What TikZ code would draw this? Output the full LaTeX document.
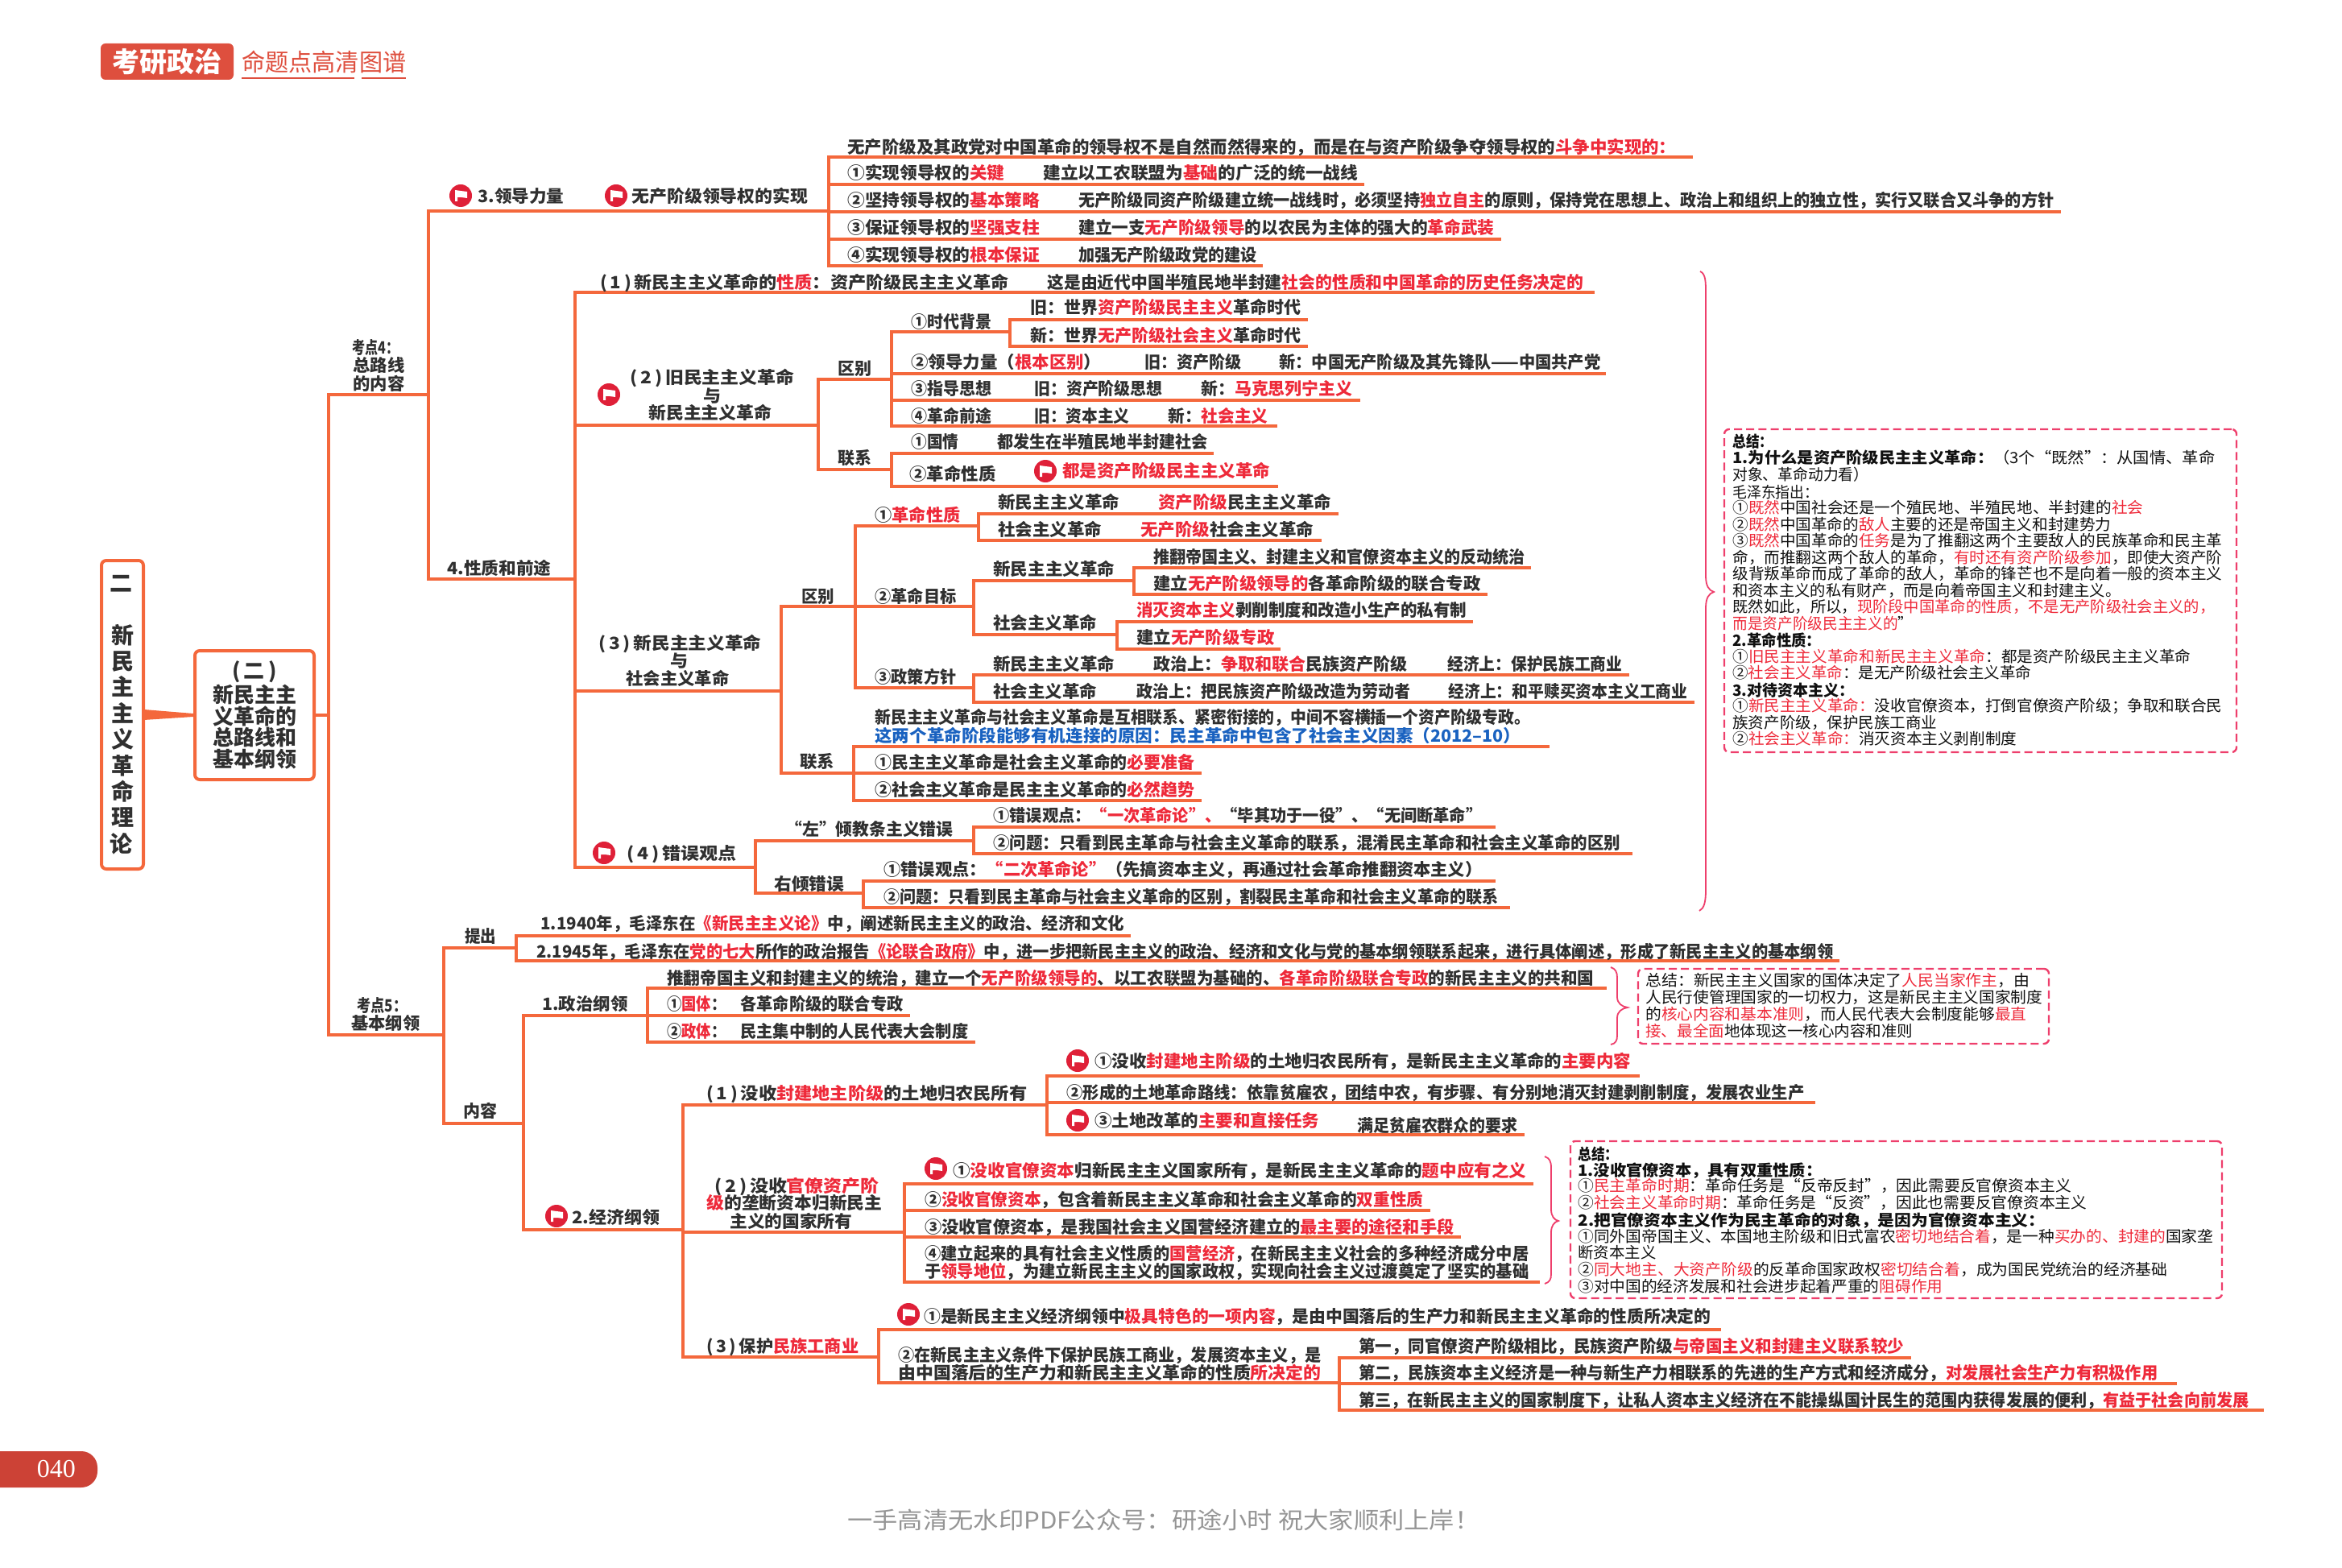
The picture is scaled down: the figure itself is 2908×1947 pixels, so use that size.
\documentclass[tikz,border=0pt]{standalone}
\usepackage{fontspec}
\usepackage{graphicx}
\setmainfont{Noto Sans CJK SC}
\newcommand\medf{\bfseries}
\newfontfamily\wmf{Liberation Serif}
\definecolor{org}{HTML}{F4683C}
\definecolor{ink}{HTML}{303030}
\definecolor{sink}{HTML}{101010}
\definecolor{redt}{HTML}{EE2A3A}
\definecolor{bluet}{HTML}{1A62C0}
\definecolor{pinkl}{HTML}{EE3F6C}
\definecolor{flagr}{HTML}{DF2038}
\definecolor{headc}{HTML}{DE4F3E}
\definecolor{pagec}{HTML}{CC4236}
\definecolor{wmark}{HTML}{959595}
\newcommand\R[1]{\textcolor{redt}{#1}}
\newcommand\BL[1]{\textcolor{bluet}{#1}}
\newcommand\B[1]{{\normalfont\bfseries #1}}
\newcounter{tc}
\newlength\tw
\tikzset{
 ln/.style={draw=org,line width=1.9pt,line cap=rect},
 txt/.style={anchor=west,inner sep=0pt,text=ink,font=\fontsize{10.5}{12}\selectfont\medf,text height=9pt,text depth=1.2pt},
 sm/.style={anchor=west,inner sep=0pt,text=sink,font=\fontsize{9.6}{11}\selectfont,text height=8.2pt,text depth=1.1pt},
 sumbox/.style={draw=pinkl,line width=1.2pt,dash pattern=on 5pt off 2.6pt,rounded corners=3pt,inner sep=0pt},
 brc/.style={draw=pinkl,line width=.9pt},
 mainbox/.style={draw=org,line width=2pt,rounded corners=3pt,fill=white,inner sep=0pt,text=ink,align=center}
}
\newcommand\T[5][txt]{\stepcounter{tc}\pgfmathsetlength\tw{(#4-#2)*0.5}\node[#1] (t\arabic{tc}) at (#2,#3) {\resizebox{\tw}{\height}{#5}};}
\newcommand\UL[4]{\coordinate (#1-l) at (#2,#4); \coordinate (#1-r) at (#3,#4); \draw[ln] (#1-l) -- (#1-r);}
\newcommand\FL[2]{\begin{scope}[shift={(#1,#2)}]
 \fill[flagr] (0,0) circle (14);
 \fill[white] (-7,-7) -- (0,-6) -- (8,-5) -- (8,3) -- (1,2) -- (-4,2) -- (-4,7) -- (-7,7) -- cycle;
 \end{scope}}
\begin{document}
\begin{tikzpicture}[x=0.5pt,y=-0.5pt]
\useasboundingbox (0,0) rectangle (2908,1947);
% header
\node[fill=headc,minimum width=82.5pt,minimum height=22.5pt,rounded corners=3pt,inner sep=0pt,text=white,font=\fontsize{17}{18}\selectfont\bfseries] (hd) at (207.5,76.5) {考研政治};
\T[{anchor=west,inner sep=0pt,text=headc,font=\fontsize{15}{16}\selectfont}]{300}{77}{504}{命题点高清图谱}
\coordinate (ha) at (300,97); \coordinate (hb) at (440,97); \coordinate (hc) at (449,97); \coordinate (hd2) at (504,97);
\draw[headc,line width=1.1pt] (ha) -- (hb); \draw[headc,line width=1.1pt] (hc) -- (hd2);
% root boxes
\node[mainbox,minimum width=26pt,minimum height=191.5pt,font=\fontsize{14}{16.2}\selectfont\bfseries] (root) at (152,887.5) {二\hspace*{1.5pt}\\[16.2pt]新\hspace*{1.5pt}\\民\hspace*{1.5pt}\\主\hspace*{1.5pt}\\主\hspace*{1.5pt}\\义\hspace*{1.5pt}\\革\hspace*{1.5pt}\\命\hspace*{1.5pt}\\理\hspace*{1.5pt}\\论\hspace*{1.5pt}};
\node[mainbox,minimum width=74pt,minimum height=80pt,font=\fontsize{13}{13.4}\selectfont\bfseries] (sec) at (316,888) {(\,二\,)\\新民主主\\义革命的\\总路线和\\基本纲领};
\fill[org] ([yshift=3.2pt]root.east) -- ([yshift=-3.2pt]root.east) -- ([yshift=-1pt]sec.west) -- ([yshift=1pt]sec.west) -- cycle;
% trunk
\coordinate (trunkm) at (408,888);
\draw[ln] (sec.east) -- (trunkm);
\UL{k4}{408}{532}{490}
\UL{k5}{408}{551}{1285}
\draw[ln] (k4-l) -- (k5-l);
\T{437}{432}{495}{\B{考点4：}}
\T{438}{454}{502}{\B{总路线}}
\T{438}{477}{502}{\B{的内容}}
\T{443}{1249}{505}{\B{考点5：}}
\T{436}{1271}{521}{\B{基本纲领}}
% 3. leadership
\UL{p3}{532}{1029}{262}
\UL{p4}{532}{713}{719}
\draw[ln] (p3-l) -- (p4-l);
\FL{572}{243}\T{593}{244}{700}{3.领导力量}
\FL{765}{243}\T{784}{244}{1003}{无产阶级领导权的实现}
\UL{r0}{1029}{2100}{195}
\UL{r1}{1029}{1692}{229}
\UL{r2}{1029}{2557}{263}
\UL{r3}{1029}{1862}{297}
\UL{r4}{1029}{1566}{330}
\draw[ln] (r0-l) -- (r4-l);
\T{1052}{183}{2081}{无产阶级及其政党对中国革命的领导权不是自然而然得来的，而是在与资产阶级争夺领导权的\R{斗争中实现的：}}
\T{1052}{215}{1247}{①实现领导权的\R{关键}}
\T{1295}{215}{1686}{建立以工农联盟为\R{基础}的广泛的统一战线}
\T{1052}{249}{1291}{②坚持领导权的\R{基本策略}}
\T{1339}{249}{2550}{无产阶级同资产阶级建立统一战线时，必须坚持\R{独立自主}的原则，保持党在思想上、政治上和组织上的独立性，实行又联合又斗争的方针}
\T{1052}{283}{1291}{③保证领导权的\R{坚强支柱}}
\T{1339}{283}{1855}{建立一支\R{无产阶级领导}的以农民为主体的强大的\R{革命武装}}
\T{1052}{317}{1291}{④实现领导权的\R{根本保证}}
\T{1339}{317}{1560}{加强无产阶级政党的建设}
% 4 nature
\T{555}{706}{684}{4.性质和前途}
\UL{q1}{714}{1978}{363}
\UL{q2}{714}{1016}{528}
\UL{q3}{714}{970}{858}
\UL{q4}{714}{938}{1077}
\draw[ln] (q1-l) -- (q4-l);
\T{745}{351}{1252}{(\,1\,)\,新民主主义革命的\R{性质}：资产阶级民主主义革命}
\T{1300}{351}{1966}{这是由近代中国半殖民地半封建\R{社会的性质和中国革命的历史任务决定的}}
% (2)
\FL{756}{490}
\T{782}{469}{986}{(\,2\,)\,旧民主主义革命}
\T{873}{492}{895}{与}
\T{805}{513}{958}{新民主主义革命}
\UL{a0}{1016}{1107}{471}
\UL{a9}{1016}{1107}{583}
\draw[ln] (a0-l) -- (a9-l);
\T{1040}{458}{1082}{区别}
\T{1040}{569}{1082}{联系}
\UL{a1}{1107}{1254}{412}
\UL{a2}{1107}{1992}{464}
\UL{a3}{1107}{1687}{497}
\UL{a4}{1107}{1584}{529}
\draw[ln] (a1-l) -- (a4-l);
\T{1131}{400}{1231}{①时代背景}
\UL{a1a}{1254}{1622}{397}
\UL{a1b}{1254}{1622}{430}
\draw[ln] (a1a-l) -- (a1b-l);
\T{1279}{382}{1615}{旧：世界\R{资产阶级民主主义}革命时代}
\T{1279}{417}{1615}{新：世界\R{无产阶级社会主义}革命时代}
\T{1131}{450}{1367}{②领导力量（\R{根本区别}）}
\T{1421}{450}{1541}{旧：资产阶级}
\T{1588}{450}{1987}{新：中国无产阶级及其先锋队——中国共产党}
\T{1131}{483}{1231}{③指导思想}
\T{1284}{483}{1443}{旧：资产阶级思想}
\T{1491}{483}{1679}{新：\R{马克思列宁主义}}
\T{1131}{517}{1231}{④革命前途}
\T{1284}{517}{1402}{旧：资本主义}
\T{1450}{517}{1574}{新：\R{社会主义}}
\UL{b1}{1107}{1505}{563}
\UL{b2}{1107}{1585}{604}
\draw[ln] (b1-l) -- (b2-l);
\T{1131}{549}{1190}{①国情}
\T{1238}{549}{1499}{都发生在半殖民地半封建社会}
\T{1129}{589}{1236}{②革命性质}
\FL{1298}{585}\T{1319}{585}{1577}{\R{都是资产阶级民主主义革命}}
% (3)
\T{743}{799}{945}{(\,3\,)\,新民主主义革命}
\T{832}{821}{854}{与}
\T{777}{843}{905}{社会主义革命}
\UL{c0}{970}{1209}{753}
\UL{c9}{970}{1060}{960}
\draw[ln] (c0-l) -- (c9-l);
\T{995}{741}{1036}{区别}
\T{993}{946}{1036}{联系}
\UL{c1}{1062}{1215}{653}
\UL{c3}{1062}{1209}{854}
\draw[ln] (c1-l) -- (c3-l);
\T{1086}{640}{1192}{①\R{革命性质}}
\UL{c1a}{1215}{1660}{638}
\UL{c1b}{1215}{1639}{671}
\draw[ln] (c1a-l) -- (c1b-l);
\T{1239}{624}{1390}{新民主主义革命}
\T{1438}{624}{1653}{\R{资产阶级}民主主义革命}
\T{1239}{658}{1368}{社会主义革命}
\T{1416}{658}{1631}{\R{无产阶级}社会主义革命}
\T{1086}{741}{1187}{②革命目标}
\UL{c2a}{1209}{1408}{721}
\UL{c2b}{1209}{1387}{788}
\draw[ln] (c2a-l) -- (c2b-l);
\T{1233}{707}{1384}{新民主主义革命}
\UL{c2c}{1408}{1899}{705}
\UL{c2d}{1408}{1845}{738}
\draw[ln] (c2c-l) -- (c2d-l);
\T{1432}{692}{1893}{推翻帝国主义、封建主义和官僚资本主义的反动统治}
\T{1432}{725}{1838}{建立\R{无产阶级领导的}各革命阶级的联合专政}
\T{1233}{774}{1362}{社会主义革命}
\UL{c2e}{1387}{1827}{772}
\UL{c2f}{1387}{1588}{806}
\draw[ln] (c2e-l) -- (c2f-l);
\T{1411}{758}{1821}{\R{消灭资本主义}剥削制度和改造小生产的私有制}
\T{1411}{792}{1582}{建立\R{无产阶级专政}}
\T{1086}{841}{1187}{③政策方针}
\UL{c3a}{1209}{2021}{838}
\UL{c3b}{1209}{2102}{872}
\draw[ln] (c3a-l) -- (c3b-l);
\T{1233}{825}{1384}{新民主主义革命}
\T{1432}{825}{1747}{政治上：\R{争取和联合}民族资产阶级}
\T{1797}{825}{2014}{经济上：保护民族工商业}
\T{1233}{859}{1362}{社会主义革命}
\T{1411}{859}{1751}{政治上：把民族资产阶级改造为劳动者}
\T{1798}{859}{2095}{经济上：和平赎买资本主义工商业}
\T{1086}{891}{1900}{新民主主义革命与社会主义革命是互相联系、紧密衔接的，中间不容横插一个资产阶级专政。}
\T{1086}{914}{1888}{\BL{这两个革命阶段能够有机连接的原因：民主革命中包含了社会主义因素（2012–10）}}
\UL{d0}{1060}{1922}{927}
\UL{d1}{1060}{1490}{960}
\UL{d2}{1060}{1490}{994}
\draw[ln] (d0-l) -- (d2-l);
\T{1086}{947}{1483}{①民主主义革命是社会主义革命的\R{必要准备}}
\T{1086}{981}{1483}{②社会主义革命是民主主义革命的\R{必然趋势}}
% (4)
\FL{750}{1059}
\T{778}{1060}{914}{(\,4\,)\,错误观点}
\UL{e1}{938}{1209}{1044}
\UL{e2}{938}{1072}{1109}
\draw[ln] (e1-l) -- (e2-l);
\T{975}{1030}{1183}{“左”倾教条主义错误}
\T{961}{1098}{1048}{右倾错误}
\UL{e1a}{1209}{1855}{1027}
\UL{e1b}{1209}{2025}{1060}
\draw[ln] (e1a-l) -- (e1b-l);
\T{1233}{1013}{1840}{①错误观点：\R{“一次革命论”、}“毕其功于一役”、“无间断革命”}
\T{1233}{1047}{2012}{②问题：只看到民主革命与社会主义革命的联系，混淆民主革命和社会主义革命的区别}
\UL{e2a}{1072}{1855}{1094}
\UL{e2b}{1072}{1873}{1127}
\draw[ln] (e2a-l) -- (e2b-l);
\T{1097}{1080}{1840}{①错误观点：\R{“二次革命论”}（先搞资本主义，再通过社会革命推翻资本主义）}
\T{1097}{1114}{1860}{②问题：只看到民主革命与社会主义革命的区别，割裂民主革命和社会主义革命的联系}
% program
\UL{f1}{551}{641}{1177}
\UL{f2b}{551}{650}{1395}
\draw[ln] (f1-l) -- (f2b-l);
\T{577}{1163}{616}{提出}
\T{575}{1380}{617}{内容}
\UL{g1}{641}{1402}{1162}
\UL{g2}{641}{2282}{1193}
\draw[ln] (g1-l) -- (g2-l);
\T{671}{1147}{1396}{1.1940年，毛泽东在\R{《新民主主义论》}中，阐述新民主主义的政治、经济和文化}
\T{666}{1182}{2276}{2.1945年，毛泽东在\R{党的七大}所作的政治报告\R{《论联合政府》}中，进一步把新民主主义的政治、经济和文化与党的基本纲领联系起来，进行具体阐述，形成了新民主主义的基本纲领}
\UL{h1}{650}{804}{1261}
\UL{h2}{650}{847}{1527}
\draw[ln] (h1-l) -- (h2-l);
\T{673}{1247}{779}{1.政治纲领}
\FL{691}{1510}\T{710}{1512}{819}{2.经济纲领}
\UL{h1a}{804}{1993}{1227}
\UL{h1b}{804}{1128}{1261}
\UL{h1c}{804}{1209}{1294}
\draw[ln] (h1a-l) -- (h1c-l);
\T{828}{1215}{1979}{推翻帝国主义和封建主义的统治，建立一个\R{无产阶级领导的}、以工农联盟为基础的、\R{各革命阶级联合专政}的新民主主义的共和国}
\T{828}{1247}{901}{①\R{国体}：}
\T{919}{1247}{1121}{各革命阶级的联合专政}
\T{828}{1281}{901}{②\R{政体}：}
\T{919}{1281}{1202}{民主集中制的人民代表大会制度}
% economic
\UL{i1}{848}{1300}{1372}
\UL{i2}{848}{1123}{1530}
\UL{i3}{848}{1091}{1685}
\draw[ln] (i1-l) -- (i3-l);
\T{877}{1358}{1275}{(\,1\,)\,没收\R{封建地主阶级}的土地归农民所有}
\T{887}{1473}{1091}{(\,2\,)\,没收\R{官僚资产阶}}
\T{877}{1494}{1095}{\R{级}的垄断资本归新民主}
\T{906}{1517}{1058}{主义的国家所有}
\T{877}{1672}{1066}{(\,3\,)\,保护\R{民族工商业}}
\UL{j1}{1300}{2034}{1336}
\UL{j2}{1300}{2252}{1369}
\UL{j3}{1300}{1891}{1409}
\draw[ln] (j1-l) -- (j3-l);
\FL{1338}{1317}\T{1359}{1318}{2025}{①没收\R{封建地主阶级}的土地归农民所有，是新民主主义革命的\R{主要内容}}
\T{1324}{1357}{2240}{②形成的土地革命路线：依靠贫雇农，团结中农，有步骤、有分别地消灭封建剥削制度，发展农业生产}
\FL{1338}{1391}\T{1359}{1392}{1638}{③土地改革的\R{主要和直接任务}}
\T{1685}{1398}{1884}{满足贫雇农群众的要求}
\UL{k1}{1123}{1902}{1470}
\UL{k2}{1123}{1774}{1503}
\UL{k3}{1123}{1812}{1536}
\UL{k4b}{1123}{1910}{1592}
\draw[ln] (k1-l) -- (k4b-l);
\FL{1162}{1451}\T{1183}{1454}{1895}{①\R{没收官僚资本}归新民主主义国家所有，是新民主主义革命的\R{题中应有之义}}
\T{1148}{1490}{1767}{②\R{没收官僚资本}，包含着新民主主义革命和社会主义革命的\R{双重性质}}
\T{1148}{1524}{1805}{③没收官僚资本，是我国社会主义国营经济建立的\R{最主要的途径和手段}}
\T{1148}{1557}{1898}{④建立起来的具有社会主义性质的\R{国营经济}，在新民主主义社会的多种经济成分中居}
\T{1148}{1579}{1898}{于\R{领导地位}，为建立新民主主义的国家政权，实现向社会主义过渡奠定了坚实的基础}
\UL{m1}{1091}{2135}{1651}
\UL{m2}{1091}{1663}{1717}
\draw[ln] (m1-l) -- (m2-l);
\FL{1128}{1632}\T{1147}{1635}{2124}{①是新民主主义经济纲领中\R{极具特色的一项内容}，是由中国落后的生产力和新民主主义革命的性质所决定的}
\T{1115}{1683}{1640}{②在新民主主义条件下保护民族工商业，发展资本主义，是}
\T{1115}{1705}{1640}{由中国落后的生产力和新民主主义革命的性质\R{所决定的}}
\UL{n1}{1663}{2371}{1686}
\UL{n2}{1663}{2701}{1718}
\UL{n3}{1663}{2809}{1751}
\draw[ln] (n1-l) -- (n3-l);
\T{1687}{1672}{2364}{第一，同官僚资产阶级相比，民族资产阶级\R{与帝国主义和封建主义联系较少}}
\T{1687}{1705}{2679}{第二，民族资本主义经济是一种与新生产力相联系的先进的生产方式和经济成分，\R{对发展社会生产力有积极作用}}
\T{1687}{1739}{2792}{第三，在新民主主义的国家制度下，让私人资本主义经济在不能操纵国计民生的范围内获得发展的便利，\R{有益于社会向前发展}}
% braces
\draw[brc] (2111,337) .. controls (2118,340) and (2118,350) .. (2118,365) -- (2118,715) .. controls (2118,728) and (2122,733) .. (2128,735) .. controls (2122,737) and (2118,742) .. (2118,755) -- (2118,1105) .. controls (2118,1120) and (2116,1128) .. (2110,1131);
\draw[brc] (2000,1201) .. controls (2006,1203) and (2008,1207) .. (2008,1214) -- (2008,1238) .. controls (2008,1246) and (2014,1250) .. (2021,1251) .. controls (2014,1252) and (2008,1256) .. (2008,1264) -- (2008,1286) .. controls (2008,1292) and (2006,1296) .. (2000,1297);
\draw[brc] (1918,1436) .. controls (1924,1438) and (1926,1442) .. (1926,1450) -- (1926,1502) .. controls (1926,1510) and (1930,1515) .. (1935,1516) .. controls (1930,1517) and (1926,1522) .. (1926,1530) -- (1926,1582) .. controls (1926,1589) and (1924,1592) .. (1918,1594);
% summary 1
\node[sumbox,minimum width=318pt,minimum height=200.5pt] (s1) at (2459,733.5) {};
\T[sm]{2151}{548}{2201}{\B{总结：}}
\T[sm]{2151}{568}{2750}{\B{1.为什么是资产阶级民主主义革命：}（3个“既然”：从国情、革命}
\T[sm]{2151}{589}{2320}{对象、革命动力看）}
\T[sm]{2151}{611}{2258}{毛泽东指出：}
\T[sm]{2151}{630}{2661}{①\R{既然}中国社会还是一个殖民地、半殖民地、半封建的\R{社会}}
\T[sm]{2151}{651}{2621}{②\R{既然}中国革命的\R{敌人}主要的还是帝国主义和封建势力}
\T[sm]{2151}{671}{2759}{③\R{既然}中国革命的\R{任务}是为了推翻这两个主要敌人的民族革命和民主革}
\T[sm]{2151}{692}{2759}{命，而推翻这两个敌人的革命，\R{有时还有资产阶级参加}，即使大资产阶}
\T[sm]{2151}{712}{2759}{级背叛革命而成了革命的敌人，革命的锋芒也不是向着一般的资本主义}
\T[sm]{2151}{733}{2633}{和资本主义的私有财产，而是向着帝国主义和封建主义。}
\T[sm]{2151}{753}{2750}{既然如此，所以，\R{现阶段中国革命的性质，不是无产阶级社会主义的，}}
\T[sm]{2151}{774}{2375}{\R{而是资产阶级民主主义的}”}
\T[sm]{2151}{795}{2261}{\B{2.革命性质：}}
\T[sm]{2151}{815}{2720}{①\R{旧民主主义革命和新民主主义革命}：都是资产阶级民主主义革命}
\T[sm]{2151}{835}{2522}{②\R{社会主义革命}：是无产阶级社会主义革命}
\T[sm]{2151}{857}{2302}{\B{3.对待资本主义：}}
\T[sm]{2151}{876}{2759}{①\R{新民主主义革命：}没收官僚资本，打倒官僚资产阶级；争取和联合民}
\T[sm]{2151}{897}{2405}{族资产阶级，保护民族工商业}
\T[sm]{2151}{917}{2504}{②\R{社会主义革命：}消灭资本主义剥削制度}
% summary 2
\node[sumbox,minimum width=255pt,minimum height=46.5pt] (s2) at (2289,1249.5) {};
\T[sm]{2043}{1217}{2520}{总结：新民主主义国家的国体决定了\R{人民当家作主}，由}
\T[sm]{2043}{1238}{2536}{人民行使管理国家的一切权力，这是新民主主义国家制度}
\T[sm]{2043}{1259}{2516}{的\R{核心内容和基本准则}，而人民代表大会制度能够\R{最直}}
\T[sm]{2043}{1280}{2375}{\R{接、最全面}地体现这一核心内容和准则}
% summary 3
\node[sumbox,minimum width=404.5pt,minimum height=97.5pt] (s3) at (2354.5,1514.5) {};
\T[sm]{1959}{1433}{2009}{\B{总结：}}
\T[sm]{1959}{1453}{2262}{\B{1.没收官僚资本，具有双重性质：}}
\T[sm]{1959}{1472}{2572}{①\R{民主革命时期}：革命任务是“反帝反封”，因此需要反官僚资本主义}
\T[sm]{1959}{1493}{2591}{②\R{社会主义革命时期}：革命任务是“反资”，因此也需要反官僚资本主义}
\T[sm]{1959}{1515}{2539}{\B{2.把官僚资本主义作为民主革命的对象，是因为官僚资本主义：}}
\T[sm]{1959}{1535}{2748}{①同外国帝国主义、本国地主阶级和旧式富农\R{密切地结合着}，是一种\R{买办的、封建的}国家垄}
\T[sm]{1959}{1555}{2056}{断资本主义}
\T[sm]{1959}{1576}{2691}{②\R{同大地主、大资产阶级}的反革命国家政权\R{密切结合着}，成为国民党统治的经济基础}
\T[sm]{1959}{1597}{2412}{③对中国的经济发展和社会进步起着严重的\R{阻碍作用}}
% page number & watermark
\fill[pagec,rounded corners=10pt] (-30,1802) rectangle (121,1847);
\node[text=white,inner sep=0pt,font=\fontsize{16}{18}\selectfont\wmf] (pg) at (70,1824) {040};
\T[{anchor=west,inner sep=0pt,text=wmark,font=\fontsize{14.5}{16}\selectfont}]{1052}{1887}{1837}{一手高清无水印PDF公众号：研途小时 祝大家顺利上岸！}
\end{tikzpicture}
\end{document}
